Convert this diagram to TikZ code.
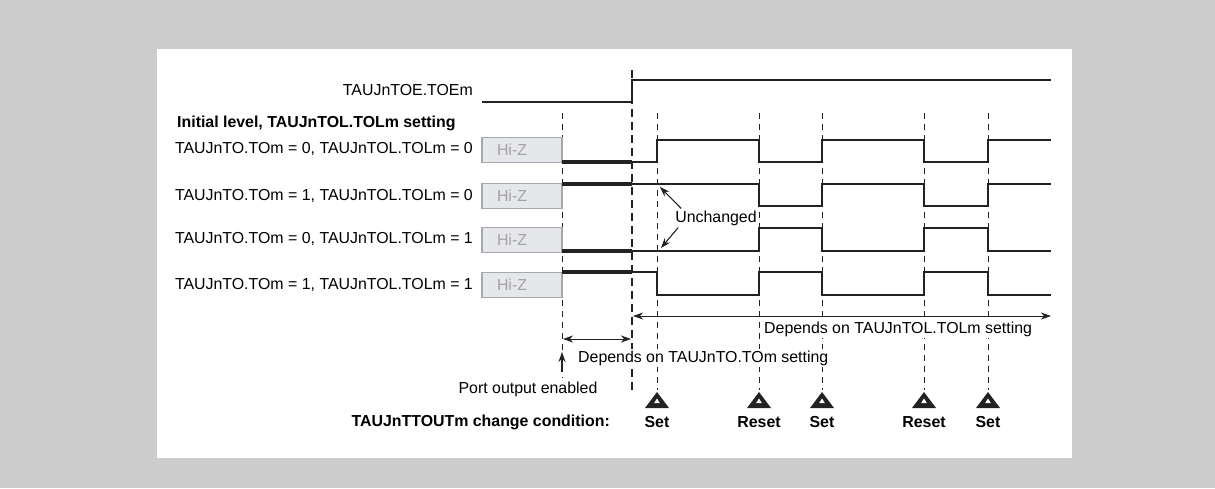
\documentclass[tikz,border=0pt]{standalone}
\usepackage{fontspec}
\setmainfont{Liberation Sans}
\usetikzlibrary{arrows.meta}
\definecolor{panelgray}{HTML}{CCCCCC}
\definecolor{hizfill}{HTML}{E6E7EA}
\definecolor{hizdraw}{HTML}{A5A8AC}
\definecolor{hiztext}{HTML}{A3A3A3}
\definecolor{inkline}{HTML}{222222}
\tikzset{
    sigtext/.style={anchor=east, inner sep=0pt, font=\fontsize{15.9}{18}\selectfont},
    headtext/.style={anchor=west, inner sep=0pt, font=\bfseries\fontsize{15.9}{18}\selectfont},
    condtext/.style={inner sep=0pt, font=\bfseries\fontsize{15.9}{18}\selectfont},
    notetext/.style={inner sep=2pt, font=\fontsize{15.9}{18}\selectfont},
    hiz/.style={rectangle, draw=hizdraw, fill=hizfill, line width=1.2pt, text width=50pt, inner xsep=15pt, minimum height=25pt, align=left, text=hiztext, font=\fontsize{15.9}{18}\selectfont},
    wave/.style={line width=1.3pt, draw=inkline},
    forced/.style={line width=4pt, draw=inkline},
    guide/.style={line width=0.9pt, draw=inkline, dash pattern=on 6pt off 5pt},
    guidebold/.style={line width=1.9pt, draw=inkline, dash pattern=on 8pt off 5pt},
    arrow/.style={line width=1.1pt, draw=inkline, -{Stealth[length=10pt, width=7pt]}},
    dimarrow/.style={line width=0.9pt, draw=inkline, {Stealth[length=10pt, width=7pt, inset=3pt]}-{Stealth[length=10pt, width=7pt, inset=3pt]}}
}
\begin{document}
\begin{tikzpicture}[x=1pt, y=-1pt]
    \useasboundingbox (0,0) rectangle (1215,488);
    \fill[panelgray] (0,0) rectangle (1215,488);
    \fill[white] (157,49) rectangle (1072,458);

    % guide lines
    \draw[guide] (562,113) -- (562,378);
    \draw[guidebold] (632,70) -- (632,390);
    \foreach \x in {657,759,822,924,988}
        \draw[guide] (\x,113) -- (\x,390);

    % signal names
    \node[sigtext] (toe) at (473,90) {TAUJnTOE.TOEm};
    \node[headtext] (init) at (177,123) {Initial level, TAUJnTOL.TOLm setting};
    \node[sigtext] (row1) at (473,149) {TAUJnTO.TOm = 0, TAUJnTOL.TOLm = 0};
    \node[sigtext] (row2) at (473,196) {TAUJnTO.TOm = 1, TAUJnTOL.TOLm = 0};
    \node[sigtext] (row3) at (473,239) {TAUJnTO.TOm = 0, TAUJnTOL.TOLm = 1};
    \node[sigtext] (row4) at (473,285) {TAUJnTO.TOm = 1, TAUJnTOL.TOLm = 1};

    \node[hiz] (hz1) at (522,150) {Hi-Z};
    \node[hiz] (hz2) at (522,196) {Hi-Z};
    \node[hiz] (hz3) at (522,240) {Hi-Z};
    \node[hiz] (hz4) at (522,285) {Hi-Z};

    % waveforms
    \draw[wave] (482,102) -- (632,102) -- (632,80) -- (1051,80);

    \draw[forced] (562,162) -- (632,162);
    \draw[wave] (632,162) -- (657,162) -- (657,140) -- (759,140) -- (759,162) -- (822,162) -- (822,140)
        -- (924,140) -- (924,162) -- (988,162) -- (988,140) -- (1051,140);

    \draw[forced] (562,184) -- (632,184);
    \draw[wave] (632,184) -- (759,184) -- (759,206) -- (822,206) -- (822,184)
        -- (924,184) -- (924,206) -- (988,206) -- (988,184) -- (1051,184);

    \draw[forced] (562,251) -- (632,251);
    \draw[wave] (632,251) -- (759,251) -- (759,228) -- (822,228) -- (822,251)
        -- (924,251) -- (924,228) -- (988,228) -- (988,251) -- (1051,251);

    \draw[forced] (562,272) -- (632,272);
    \draw[wave] (632,272) -- (657,272) -- (657,295) -- (759,295) -- (759,272) -- (822,272) -- (822,295)
        -- (924,295) -- (924,272) -- (988,272) -- (988,295) -- (1051,295);

    % unchanged edges
    \node[notetext] (unch) at (716,218) {Unchanged};
    \coordinate (u1) at (660,187);
    \coordinate (u2) at (661,248);
    \draw[arrow] ([xshift=8pt]unch.north west) -- (u1);
    \draw[arrow] ([xshift=5pt]unch.south west) -- (u2);

    % dimensions
    \coordinate (tolL) at (633,316);
    \coordinate (tolR) at (1051,316);
    \coordinate (toL) at (563,339);
    \coordinate (toR) at (631,339);
    \draw[dimarrow] (tolL) -- (tolR);
    \draw[dimarrow] (toL) -- (toR);
    \node[notetext, fill=white, anchor=west] (toldep) at (762,329) {Depends on TAUJnTOL.TOLm setting};
    \node[notetext, fill=white, anchor=west] (todep) at (576,358) {Depends on TAUJnTO.TOm setting};

    \node[notetext] (port) at (528,389) {Port output enabled};
    \coordinate (pen) at (562,352);
    \draw[arrow, -{Stealth[length=10pt, width=7pt]}] (562,372) -- (pen);

    % change conditions
    \node[condtext, anchor=east] (cond) at (610,422) {TAUJnTTOUTm change condition:};
    \foreach \x/\t/\n in {657/Set/c1, 759/Reset/c2, 822/Set/c3, 924/Reset/c4, 988/Set/c5} {
        \fill[inkline] (\x,392) -- (\x-12,408) -- (\x+12,408) -- cycle;
        \fill[white] (\x,398.5) -- (\x-2.8,403) -- (\x+2.8,403) -- cycle;
        \node[condtext] (\n) at (\x,422) {\t};
    }
\end{tikzpicture}
\end{document}
